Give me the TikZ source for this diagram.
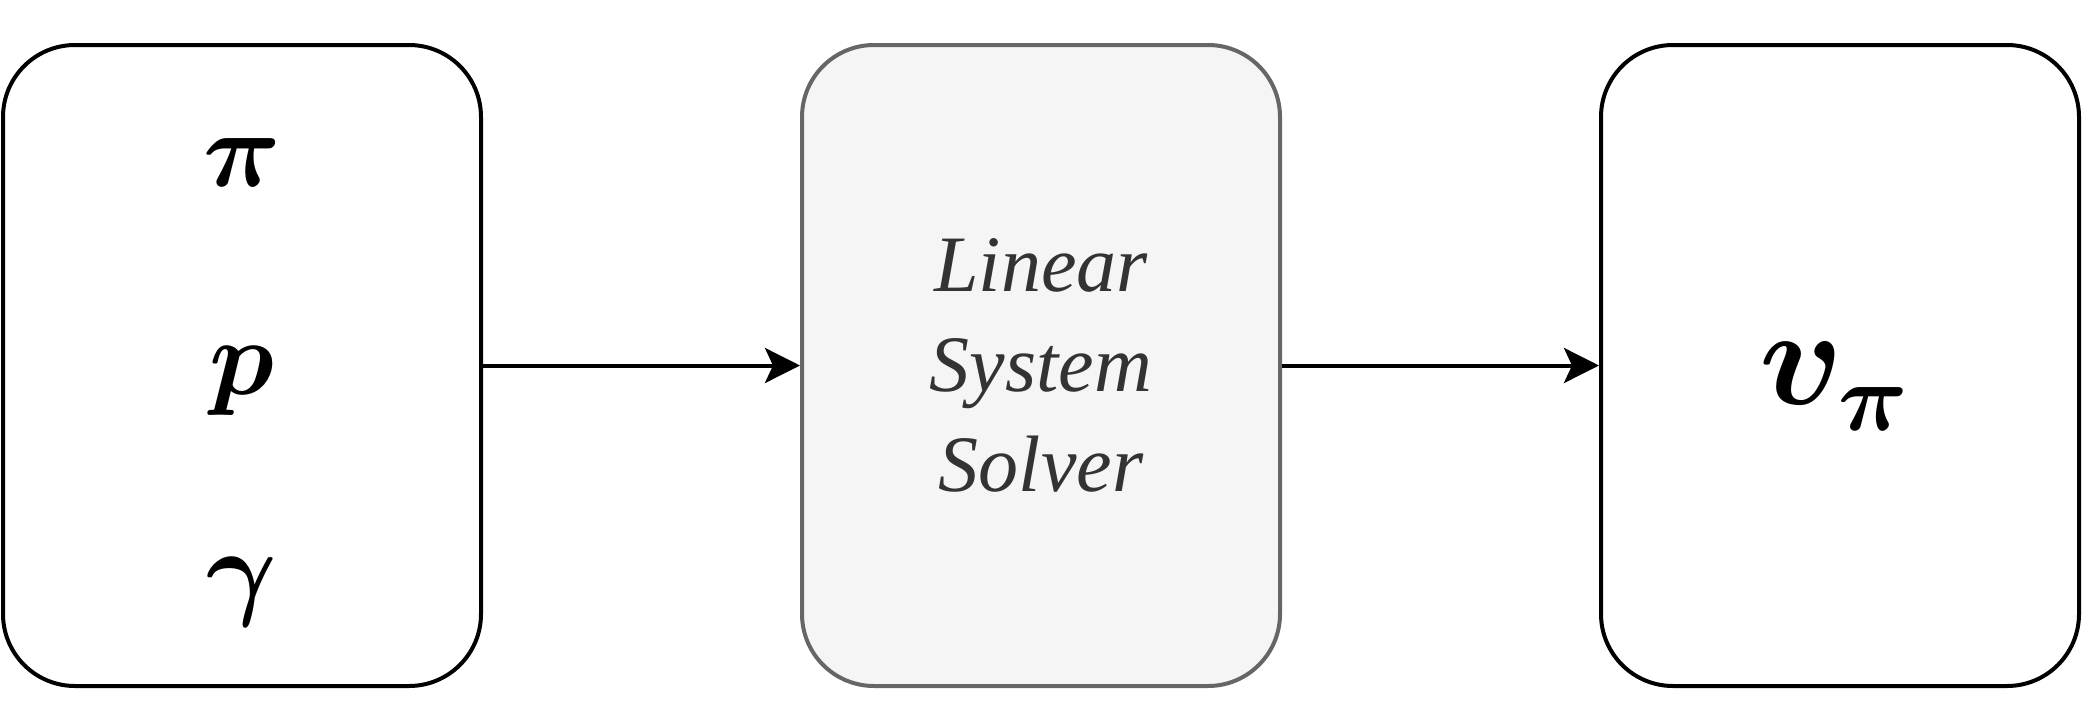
\documentclass[tikz,border=0pt]{standalone}
\usepackage{fontspec}
\usepackage{graphicx}
\usepackage{bm}
\usetikzlibrary{arrows.meta,positioning}
\newfontfamily\solverfont{Liberation Serif}
\definecolor{boxgray}{HTML}{666666}
\definecolor{boxfill}{HTML}{F5F5F5}
\definecolor{textgray}{HTML}{333333}
% math glyphs stop at 24.88pt, so scale them up
\newcommand{\bigsym}[2]{\scalebox{#1}{\fontsize{24.88}{30}\selectfont$\bm{#2}$}}
\newcommand{\valuesym}{\scalebox{2.8}{\fontsize{24.88}{30}\selectfont$\bm{v}$\kern-1pt\raisebox{-4.5pt}{\fontsize{17.4}{20}\selectfont$\bm{\pi}$}}}

\begin{document}
\begin{tikzpicture}[x=0.5pt,y=-0.5pt,-{Stealth[length=17.5pt,width=17.5pt,inset=4pt]},node distance=158.5pt,line width=2pt,
    block/.style={draw,rounded corners=36pt,minimum width=239pt,minimum height=320.5pt,align=center},
    sym/.style={anchor=base,inner sep=0pt}]
  \useasboundingbox (0,0) rectangle (2084,728);

  \node[block]                                (inputs) at (242,365.5)   {};
  \node[block,draw=boxgray,fill=boxfill,text=textgray,
        font=\solverfont\itshape\fontsize{40}{50}\selectfont]
                                              (solver) [right=of inputs] {Linear\\System\\Solver};
  \node[block]                                (value)  [right=of solver] {};

  % inputs of the solver
  \node[sym] (pi)    at (242,186) {\bigsym{2.17}{\pi}};
  \node[sym] (p)     at (242,394) {\bigsym{2.17}{p}};
  \node[sym] (gamma) at (242,605) {\bigsym{2.17}{\gamma}};

  % resulting value function
  \node[inner sep=0pt] (vpi) at ([xshift=-3pt,yshift=-10.5pt]value.center) {\valuesym};

  \path (inputs) edge (solver)
        (solver) edge (value);
\end{tikzpicture}
\end{document}
